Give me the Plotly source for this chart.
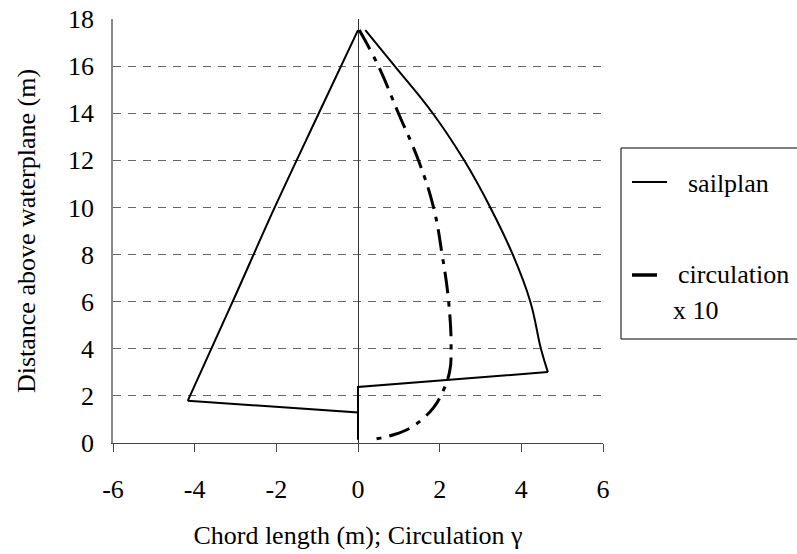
import plotly.graph_objects as go

# Sailplan: leech (right edge), foot / mast segments, luff (left edge)
leech_x = [0.18, 0.90, 1.83, 2.60, 3.24, 3.79, 4.22, 4.48, 4.65]
leech_y = [17.53, 16.0, 14.0, 12.0, 10.0, 8.0, 6.0, 4.0, 3.01]

foot_x = [4.65, 0.0, 0.0, 0.0, -4.17]
foot_y = [3.01, 2.38, 0.14, 1.30, 1.79]

luff_x = [-4.17, -3.07, -2.04, -0.96, 0.0]
luff_y = [1.79, 6.0, 10.0, 14.0, 17.53]

# Circulation x 10
circ_x = [0.03, 0.50, 0.99, 1.48, 1.85, 2.06, 2.22, 2.28, 2.24, 2.02,
          1.85, 1.65, 1.28, 0.87, 0.34]
circ_y = [17.53, 16.0, 14.0, 12.0, 10.0, 8.0, 6.0, 4.0, 3.0, 1.98,
          1.5, 1.13, 0.64, 0.35, 0.14]

x_ticks = [-6, -4, -2, 0, 2, 4, 6]
y_ticks = [0, 2, 4, 6, 8, 10, 12, 14, 16, 18]

legend_names = ["sailplan", "circulation", "x 10"]

FONT = "Liberation Serif, Times New Roman, serif"
FS = 26
W, H = 797, 554
L, R, T, B = 113, 194, 19, 111

fig = go.Figure()
solid = dict(color="black", width=2)
fig.add_trace(go.Scatter(x=leech_x, y=leech_y, mode="lines",
                         line=dict(solid, shape="spline", smoothing=1.2),
                         showlegend=False, hoverinfo="skip"))
fig.add_trace(go.Scatter(x=foot_x, y=foot_y, mode="lines", line=solid,
                         showlegend=False, hoverinfo="skip"))
fig.add_trace(go.Scatter(x=luff_x, y=luff_y, mode="lines",
                         line=dict(solid, shape="spline", smoothing=1),
                         showlegend=False, hoverinfo="skip"))
fig.add_trace(go.Scatter(x=circ_x, y=circ_y, mode="lines",
                         line=dict(color="black", width=3, shape="spline",
                                   smoothing=1.2, dash="22px,8px,5px,8px"),
                         showlegend=False, hoverinfo="skip"))

def px(xp):
    return (xp - L) / (W - L - R)

def py(yp):
    return (H - B - yp) / (H - T - B)

shapes = [
    dict(type="rect", xref="paper", yref="paper",
         x0=px(621), x1=px(830), y0=py(339), y1=py(148),
         line=dict(color="black", width=1), fillcolor="white"),
    dict(type="line", xref="paper", yref="paper",
         x0=px(632), x1=px(667), y0=py(182), y1=py(182),
         line=dict(color="black", width=2)),
    dict(type="line", xref="paper", yref="paper",
         x0=px(632), x1=px(657), y0=py(275), y1=py(275),
         line=dict(color="black", width=3.5)),
]
annotations = [
    dict(text=legend_names[0], xref="paper", yref="paper", x=px(686), y=py(183),
         xanchor="left", yanchor="middle", showarrow=False,
         font=dict(family=FONT, size=FS, color="black")),
    dict(text=legend_names[1], xref="paper", yref="paper", x=px(676), y=py(274),
         xanchor="left", yanchor="middle", showarrow=False,
         font=dict(family=FONT, size=FS, color="black")),
    dict(text=legend_names[2], xref="paper", yref="paper", x=px(671), y=py(310),
         xanchor="left", yanchor="middle", showarrow=False,
         font=dict(family=FONT, size=FS, color="black")),
]

fig.update_layout(
    width=W, height=H,
    margin=dict(l=L, r=R, t=T, b=B, pad=0),
    paper_bgcolor="white", plot_bgcolor="white",
    font=dict(family=FONT, size=FS, color="black"),
    shapes=shapes, annotations=annotations,
    xaxis=dict(range=[-6, 6], tickvals=x_ticks, ticktext=[str(v) for v in x_ticks],
               automargin=False,
               showgrid=False, zeroline=True, zerolinecolor="#333", zerolinewidth=1,
               showline=True, linecolor="#444", linewidth=1,
               ticks="outside", ticklen=8, tickcolor="#444",
               ticklabelstandoff=15,
               tickfont=dict(family=FONT, size=FS),
               title=dict(text="Chord length (m); Circulation γ", standoff=22,
                          font=dict(family=FONT, size=FS))),
    yaxis=dict(range=[0, 18], tickvals=y_ticks, ticktext=[str(v) for v in y_ticks],
               automargin=False,
               showgrid=True, gridcolor="#666", gridwidth=1, griddash="8px,7px",
               zeroline=False, showline=True, linecolor="#888", linewidth=1.5,
               ticks="", ticklabelstandoff=12,
               tickfont=dict(family=FONT, size=FS),
               title=dict(text="Distance above waterplane (m)", standoff=25,
                          font=dict(family=FONT, size=FS))),
)

fig.write_html("out.html")
